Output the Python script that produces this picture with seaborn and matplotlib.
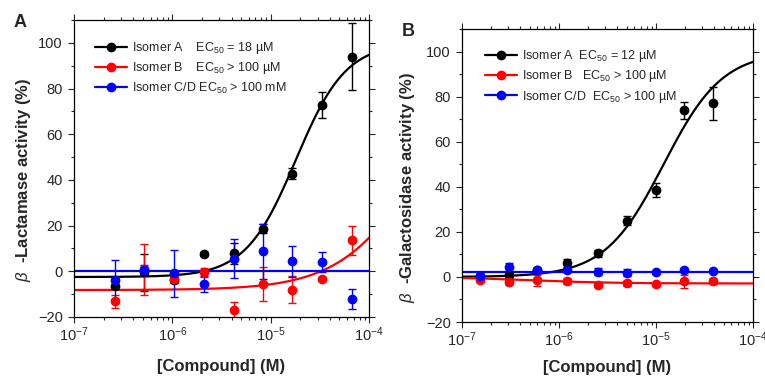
import matplotlib
matplotlib.use("Agg")
import matplotlib.pyplot as plt
import matplotlib.ticker as mticker
from matplotlib.lines import Line2D
import numpy as np
import pandas as pd
import seaborn as sns

# ---- Panel A: beta-lactamase ----
conc_a = [2.6e-7, 5.2e-7, 1.05e-6, 2.1e-6, 4.2e-6, 8.3e-6, 1.65e-5, 3.35e-5, 6.7e-5]
iso_a_mean = [-6.4, -0.5, -3.7, 7.6, 7.8, 18.6, 42.8, 72.7, 94.0]
iso_a_err = [1.5, 8.0, 1.5, 0.8, 4.4, 2.0, 2.5, 5.6, 14.8]
iso_b_mean = [-13.2, 0.8, -3.4, -0.5, -16.9, -5.5, -8.1, -3.3, 13.5]
iso_b_err = [3.0, 11.0, 1.0, 2.0, 3.5, 7.3, 5.9, 1.0, 6.2]
iso_cd_mean = [-3.7, 0.7, -0.8, -5.5, 5.6, 8.7, 4.3, 3.9, -12.2]
iso_cd_err = [8.5, 2.0, 10.3, 3.5, 8.7, 12.0, 6.7, 4.4, 4.3]

# ---- Panel B: beta-galactosidase ----
conc_b = [1.55e-7, 3.05e-7, 6.0e-7, 1.2e-6, 2.55e-6, 5.0e-6, 1.0e-5, 1.95e-5, 3.85e-5]
gal_a_mean = [0.3, 1.0, 3.1, 6.0, 10.5, 25.0, 38.5, 74.0, 77.0]
gal_a_err = [1.0, 1.0, 0.8, 1.8, 1.5, 2.0, 3.0, 3.8, 7.3]
gal_b_mean = [-1.3, -2.4, -1.5, -1.8, -3.6, -2.8, -3.2, -2.0, -1.8]
gal_b_err = [1.0, 1.0, 2.5, 1.5, 0.8, 1.2, 0.8, 3.0, 1.5]
gal_cd_mean = [0.6, 4.3, 3.1, 3.0, 2.4, 1.9, 2.1, 2.9, 2.6]
gal_cd_err = [1.5, 1.8, 0.8, 0.8, 1.5, 1.5, 0.5, 0.5, 0.5]

# fitted curve parameters: [bottom, top, EC50 (M), hill]
fit_a = {"Isomer A": [-2.5, 100.0, 1.8e-5, 1.7],
         "Isomer B": [-8.2, 100.0, 3.5e-4, 1.05],
         "Isomer C/D": [0.0, 0.0, 1e-5, 1.0]}
fit_b = {"Isomer A": [0.0, 100.0, 1.2e-5, 1.43],
         "Isomer B": [0.0, -2.9, 5e-7, 1.0],
         "Isomer C/D": [2.3, 2.3, 1e-5, 1.0]}

labels_a = ["Isomer A    EC$_{50}$ = 18 µM",
            "Isomer B    EC$_{50}$ > 100 µM",
            "Isomer C/D EC$_{50}$ > 100 mM"]
labels_b = ["Isomer A  EC$_{50}$ = 12 µM",
            "Isomer B   EC$_{50}$ > 100 µM",
            "Isomer C/D  EC$_{50}$ > 100 µM"]

ISOMERS = ["Isomer A", "Isomer B", "Isomer C/D"]
COLORS = {"Isomer A": "black", "Isomer B": "#ff0000", "Isomer C/D": "#0000ff"}


def curves(fits):
    xs = np.logspace(-7, -4, 300)
    rows = []
    for name, (bot, top, ec50, hill) in fits.items():
        ys = bot + (top - bot) / (1 + (ec50 / xs) ** hill)
        rows.append(pd.DataFrame({"conc": xs, "activity": ys, "isomer": name}))
    return pd.concat(rows, ignore_index=True)


def draw_panel(ax, conc, means, errs, fits):
    fit_df = curves(fits)
    sns.lineplot(data=fit_df, x="conc", y="activity", hue="isomer",
                 hue_order=ISOMERS, palette=COLORS, linewidth=1.6,
                 legend=False, ax=ax)
    for name, m, e in zip(ISOMERS, means, errs):
        ax.errorbar(conc, m, yerr=e, fmt="o", color=COLORS[name], ms=6,
                    capsize=3, elinewidth=1.0, capthick=1.0, zorder=3)

    ax.set_xscale("log")
    ax.set_xlim(1e-7, 1e-4)
    ax.set_ylim(-20, 110)
    ax.yaxis.set_major_locator(mticker.FixedLocator([-20, 0, 20, 40, 60, 80, 100]))
    ax.yaxis.set_minor_locator(mticker.MultipleLocator(10))
    ax.xaxis.set_major_locator(mticker.LogLocator(base=10, numticks=10))
    ax.xaxis.set_minor_locator(mticker.LogLocator(base=10, subs=np.arange(2, 10), numticks=10))
    ax.xaxis.set_minor_formatter(mticker.NullFormatter())
    ax.tick_params(which="both", direction="out", top=True, right=True,
                   labelsize=10.5, width=0.8)
    ax.tick_params(which="major", length=4.5)
    ax.tick_params(which="minor", length=2.2)
    ax.tick_params(axis="x", which="major", pad=1.5)
    for sp in ax.spines.values():
        sp.set_visible(True)
        sp.set_linewidth(0.9)
        sp.set_color("black")

    return [Line2D([0], [0], color=COLORS[n], marker="o", ms=6, lw=1.6)
            for n in ISOMERS]


sns.set_theme(style="ticks")
plt.rcParams["font.family"] = ["Liberation Sans", "DejaVu Sans"]
plt.rcParams["mathtext.fontset"] = "custom"
plt.rcParams["mathtext.rm"] = "Liberation Sans"
plt.rcParams["mathtext.it"] = "Liberation Sans:italic"

fig = plt.figure(figsize=(7.65, 3.78), dpi=100)
ax_a = fig.add_axes([0.0967, 0.1614, 0.3857, 0.7857])
ax_b = fig.add_axes([0.6039, 0.1481, 0.3804, 0.7752])

h_a = draw_panel(ax_a, conc_a, [iso_a_mean, iso_b_mean, iso_cd_mean],
                 [iso_a_err, iso_b_err, iso_cd_err], fit_a)
h_b = draw_panel(ax_b, conc_b, [gal_a_mean, gal_b_mean, gal_cd_mean],
                 [gal_a_err, gal_b_err, gal_cd_err], fit_b)

for ax, handles, labels, anchor in [(ax_a, h_a, labels_a, (0.071, 0.932)),
                                    (ax_b, h_b, labels_b, (0.079, 0.934))]:
    ax.legend(handles, labels, loc="upper left", bbox_to_anchor=anchor,
              frameon=False, fontsize=9, handlelength=2.6, handletextpad=0.4,
              labelspacing=0.33, borderpad=0, borderaxespad=0)

ax_a.set_xlabel("[Compound] (M)", fontsize=12, fontweight="bold")
ax_b.set_xlabel("[Compound] (M)", fontsize=12, fontweight="bold")
ax_a.xaxis.set_label_coords(0.5, -0.143)
ax_b.xaxis.set_label_coords(0.5, -0.128)

ax_a.set_ylabel(r"$\beta$  -Lactamase activity (%)", fontsize=12, fontweight="bold")
ax_b.set_ylabel(r"$\beta$  -Galactosidase activity (%)", fontsize=12, fontweight="bold")
ax_a.yaxis.set_label_coords(-0.14, 0.46)
ax_b.yaxis.set_label_coords(-0.155, 0.46)

ax_a.text(-0.183, 0.993, "A", transform=ax_a.transAxes, fontsize=13,
          fontweight="bold", ha="center", va="center")
ax_b.text(-0.186, 0.99, "B", transform=ax_b.transAxes, fontsize=13,
          fontweight="bold", ha="center", va="center")

fig.savefig("out.png", dpi=100)
